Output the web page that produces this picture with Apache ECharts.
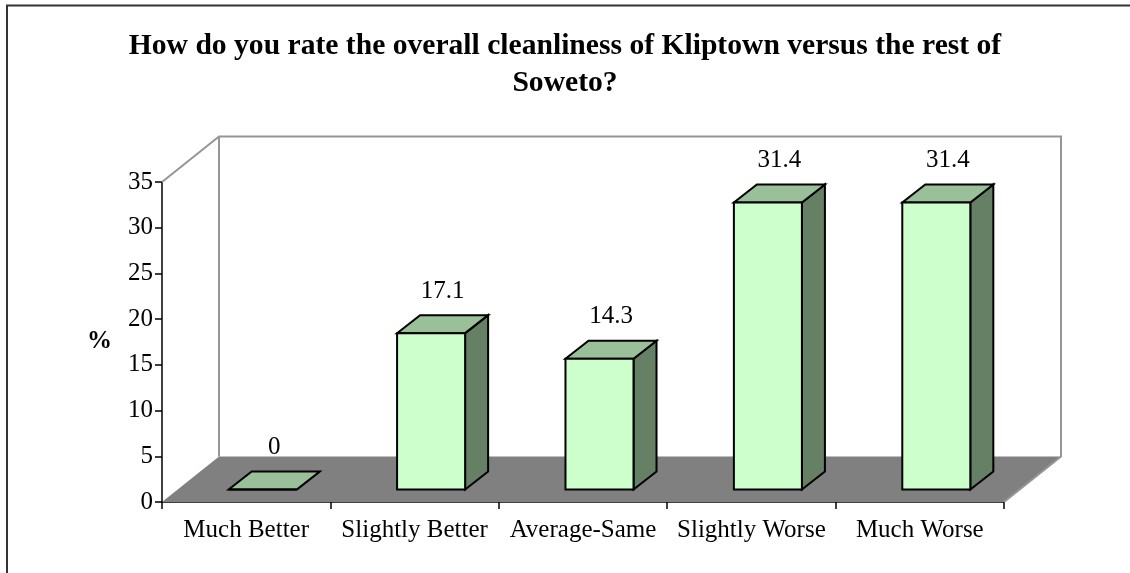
<!DOCTYPE html>
<html><head><meta charset="utf-8">
<script src="https://cdn.jsdelivr.net/npm/echarts@6/dist/echarts.min.js"></script>
<style>html,body{margin:0;padding:0;background:#fff}#c{width:1130px;height:573px}</style>
</head><body><div id="c"></div>
<script>
// ---- data ----
const categories = ['Much Better', 'Slightly Better', 'Average-Same', 'Slightly Worse', 'Much Worse'];
const values = [0, 17.1, 14.3, 31.4, 31.4];
const yMin = 0, yMax = 35, yInterval = 5;
const titleText = 'How do you rate the overall cleanliness of Kliptown versus the rest of\nSoweto?';
const yName = '%';

// ---- style ----
const FONT = '"Liberation Serif", "Times New Roman", serif';
const DEPTH = [57, -45.5];      // floor / wall depth projection (px)
const BAR_OFF = [16.5, -12.5];  // bar front face offset from front plane
const BAR_DEPTH = [23, -18];    // bar depth projection
const FRONT = '#CCFFCC', TOP = '#99C099', SIDE = '#668066', FLOOR = '#808080', WALL = '#969696';

const chart = echarts.init(document.getElementById('c'), null, {renderer: 'canvas'});

const option = {
  animation: false,
  backgroundColor: '#fff',
  title: {
    text: titleText,
    left: 'center',
    top: 23,
    textStyle: {fontFamily: FONT, fontSize: 29.6, fontWeight: 'bold', color: '#000', lineHeight: 37, align: 'center'}
  },
  graphic: [{
    type: 'rect', shape: {x: 7, y: 5.5, width: 1200, height: 700},
    style: {fill: null, stroke: '#333', lineWidth: 2}, silent: true, z: 100
  }],
  grid: {left: 162, right: 126, top: 182, bottom: 71, containLabel: false},
  xAxis: {
    type: 'category', data: categories, boundaryGap: true,
    axisLine: {show: true, lineStyle: {color: '#000', width: 1.5}},
    axisTick: {show: true, length: 7, lineStyle: {color: '#000', width: 1.5}},
    axisLabel: {fontFamily: FONT, fontSize: 25, color: '#000', margin: 16, interval: 0},
    splitLine: {show: false}
  },
  yAxis: {
    type: 'value', min: yMin, max: yMax, interval: yInterval,
    name: yName, nameLocation: 'middle', nameGap: 50, nameRotate: 0,
    nameTextStyle: {fontFamily: FONT, fontSize: 25, fontWeight: 'bold', color: '#000'},
    axisLine: {show: true, lineStyle: {color: '#000', width: 1.5}},
    axisTick: {show: true, length: 7, lineStyle: {color: '#000', width: 1.5}},
    axisLabel: {fontFamily: FONT, fontSize: 25, color: '#000', margin: 9},
    splitLine: {show: false}
  },
  series: [
    {
      type: 'custom', z: 1, silent: true,
      data: [[0, 0]],
      renderItem: function (params, api) {
        const cs = params.coordSys;
        const xl = cs.x, xr = cs.x + cs.width, yb = cs.y + cs.height, yt = cs.y;
        const dx = DEPTH[0], dy = DEPTH[1];
        const ls = {stroke: WALL, lineWidth: 2, fill: null};
        return {
          type: 'group',
          children: [
            {type: 'polygon', shape: {points: [[xl + dx, yt + dy], [xr + dx, yt + dy], [xr + dx, yb + dy], [xl + dx, yb + dy]]}, style: {fill: '#fff'}},
            {type: 'polygon', shape: {points: [[xl, yb], [xr, yb], [xr + dx, yb + dy], [xl + dx, yb + dy]]}, style: {fill: FLOOR}},
            {type: 'polyline', shape: {points: [[xl, yt], [xl + dx, yt + dy], [xr + dx, yt + dy], [xr + dx, yb + dy], [xr, yb]]}, style: ls},
            {type: 'line', shape: {x1: xl + dx, y1: yt + dy, x2: xl + dx, y2: yb + dy}, style: ls}
          ]
        };
      }
    },
    {
      type: 'custom', z: 5, silent: true,
      data: values.map((v, i) => [i, v]),
      renderItem: function (params, api) {
        const i = api.value(0), v = api.value(1);
        const base = api.coord([i, 0]);
        const top = api.coord([i, v]);
        const bw = api.size([1, 0])[0] * 0.404;
        const x0 = base[0] - bw / 2 + BAR_OFF[0];
        const x1 = x0 + bw;
        const yb = base[1] + BAR_OFF[1];
        const yt = top[1] + BAR_OFF[1];
        const dx = BAR_DEPTH[0], dy = BAR_DEPTH[1];
        const st = {stroke: '#000', lineWidth: 2, lineJoin: 'miter'};
        return {
          type: 'group',
          children: [
            {type: 'polygon', shape: {points: [[x1, yb], [x1 + dx, yb + dy], [x1 + dx, yt + dy], [x1, yt]]}, style: Object.assign({fill: SIDE}, st)},
            {type: 'polygon', shape: {points: [[x0, yt], [x1, yt], [x1 + dx, yt + dy], [x0 + dx, yt + dy]]}, style: Object.assign({fill: TOP}, st)},
            {type: 'rect', shape: {x: x0, y: yt, width: bw, height: yb - yt}, style: Object.assign({fill: FRONT}, st)},
            {type: 'text', x: (x0 + x1 + dx) / 2, y: yt + dy - 24,
              style: {text: String(v), fontFamily: FONT, fontSize: 25, fill: '#000', align: 'center', verticalAlign: 'middle'}}
          ]
        };
      }
    }
  ]
};
chart.setOption(option);
</script>
</body></html>
